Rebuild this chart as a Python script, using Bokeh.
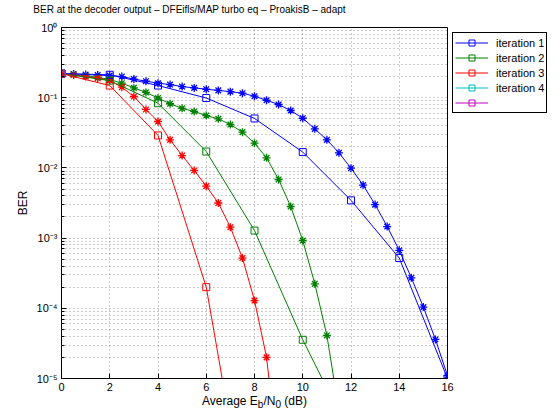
from bokeh.plotting import figure
from bokeh.layouts import column
from bokeh.models import (Range1d, FixedTicker, CustomJSTickFormatter, Legend, LegendItem, Div)
from bokeh.embed import file_html
from bokeh.resources import INLINE

FONT = "Liberation Sans"

# ---- data ----
x_sq = [0, 2, 4, 6, 8, 10, 12, 14, 16]
iter1_sq = [0.22, 0.212, 0.149, 0.099, 0.0506, 0.0168, 0.00345, 0.00052, 1.0e-5]
x_sq2 = [0, 2, 4, 6, 8, 10, 12]
iter2_sq = [0.22, 0.175, 0.0835, 0.0171, 0.00128, 3.56e-5, 1.5e-6]
x_sq3 = [0, 2, 4, 6, 8]
iter3_sq = [0.22, 0.149, 0.029, 2.0e-4, 2.3e-8]
x_sq45 = [0]
iter4_sq = [0.22]
iter5_sq = [0.22]

x_st1 = [0, 0.5, 1, 1.5, 2, 2.5, 3, 3.5, 4, 4.5, 5, 5.5, 6, 6.5, 7, 7.5, 8,
         8.5, 9, 9.5, 10, 10.5, 11, 11.5, 12, 12.5, 13, 13.5, 14, 14.5, 15, 15.5, 16]
iter1_st = [0.22, 0.218, 0.214, 0.21, 0.207, 0.2, 0.184, 0.172, 0.161, 0.154, 0.144,
            0.138, 0.132, 0.127, 0.122, 0.116, 0.105, 0.092, 0.080, 0.0657, 0.051,
            0.036, 0.0251, 0.0164, 0.0099, 0.0057, 0.003, 0.00146, 6.7e-4, 2.72e-4,
            1.04e-4, 3.6e-5, 1.1e-5]
x_st2 = [0, 0.5, 1, 1.5, 2, 2.5, 3, 3.5, 4, 4.5, 5, 5.5, 6, 6.5, 7, 7.5, 8,
         8.5, 9, 9.5, 10, 10.5, 11, 11.5]
iter2_st = [0.22, 0.214, 0.205, 0.195, 0.182, 0.161, 0.138, 0.119, 0.099, 0.082,
            0.0705, 0.0636, 0.0557, 0.05, 0.0415, 0.0323, 0.0225, 0.0139, 0.00684,
            0.00282, 9.24e-4, 2.23e-4, 4.1e-5, 3.5e-6]
x_st3 = [0, 0.5, 1, 1.5, 2, 2.5, 3, 3.5, 4, 4.5, 5, 5.5, 6, 6.5, 7, 7.5, 8, 8.5, 9]
iter3_st = [0.22, 0.21, 0.2, 0.19, 0.176, 0.141, 0.104, 0.068, 0.0458, 0.0251, 0.015,
            0.0092, 0.0055, 0.00316, 0.00143, 5.2e-4, 1.29e-4, 2.0e-5, 6e-7]

labels = ["iteration 1", "iteration 2", "iteration 3", "iteration 4", " "]
colors = ["#0000ff", "#008000", "#ff0000", "#00bfbf", "#bf00bf"]
x_ticks = [0, 2, 4, 6, 8, 10, 12, 14, 16]
y_ticks = [1e-5, 1e-4, 1e-3, 1e-2, 1e-1, 1]
y_minor = [m * 10.0 ** e for e in range(-5, 0) for m in range(2, 10)]
title = "BER at the decoder output \u2013 DFEifls/MAP turbo eq \u2013 ProakisB \u2013 adapt"
x_label_html = "Average E<sub>b</sub>/N<sub>0</sub> (dB)"

p = figure(frame_width=386, frame_height=351, y_axis_type="log",
           x_range=Range1d(0, 16), y_range=Range1d(1e-5, 1),
           output_backend="svg", toolbar_location=None,
           min_border_left=61, min_border_top=9, min_border_bottom=17,
           min_border_right=0)

p.outline_line_color = "black"
p.outline_line_width = 1
p.background_fill_color = "white"
p.border_fill_color = "white"

# axes
p.xaxis.ticker = FixedTicker(ticks=x_ticks)
p.yaxis.ticker = FixedTicker(ticks=y_ticks, minor_ticks=y_minor)
p.yaxis.formatter = CustomJSTickFormatter(code="""
const sup = {'0':'\u2070','1':'\u00b9','2':'\u00b2','3':'\u00b3','4':'\u2074','5':'\u2075',
             '6':'\u2076','7':'\u2077','8':'\u2078','9':'\u2079','-':'\u207b'};
const e = Math.round(Math.log10(tick));
return '10' + String(e).split('').map(c => sup[c]).join('');
""")
for ax in (p.xaxis[0], p.yaxis[0]):
    ax.axis_line_color = "black"
    ax.major_tick_line_color = "black"
    ax.major_tick_in = 5
    ax.major_tick_out = 0
    ax.minor_tick_in = 3
    ax.minor_tick_out = 0
    ax.major_label_text_font = FONT
    ax.major_label_text_font_size = "11px"
    ax.major_label_text_color = "black"
    ax.major_label_standoff = 4
    ax.axis_label_text_font = FONT
    ax.axis_label_text_font_size = "12px"
    ax.axis_label_text_font_style = "normal"
    ax.axis_label_text_color = "black"
p.xaxis.minor_tick_line_color = None
p.yaxis.minor_tick_line_color = "black"
p.yaxis.axis_label = "BER"
p.yaxis.axis_label_standoff = 4

# grid
for g in (p.xgrid[0], p.ygrid[0]):
    g.grid_line_color = "black"
    g.grid_line_alpha = 0.4
    g.grid_line_dash = "1 3"
p.ygrid.minor_grid_line_color = "black"
p.ygrid.minor_grid_line_alpha = 0.4
p.ygrid.minor_grid_line_dash = "1 3"

# star curves (not in legend)
for xs, ys, c in ((x_st1, iter1_st, colors[0]), (x_st2, iter2_st, colors[1]),
                  (x_st3, iter3_st, colors[2])):
    p.line(xs, ys, line_color=c, line_width=1)
    p.scatter(xs, ys, marker="asterisk", size=8, line_color=c, line_width=1.3)

# square curves (legend)
items = []
sq_sets = [(x_sq, iter1_sq), (x_sq2, iter2_sq), (x_sq3, iter3_sq),
           (x_sq45, iter4_sq), (x_sq45, iter5_sq)]
for (xs, ys), c, lab in zip(sq_sets, colors, labels):
    r1 = p.line(xs, ys, line_color=c, line_width=1)
    r2 = p.scatter(xs, ys, marker="square", size=7, line_color=c,
                   fill_color=None, line_width=1)
    items.append(LegendItem(label=lab, renderers=[r1, r2]))

legend = Legend(items=items, location="top_left")
legend.label_text_font = FONT
legend.label_text_font_size = "11px"
legend.label_text_color = "black"
legend.border_line_color = "black"
legend.border_line_width = 1
legend.border_line_alpha = 1
legend.margin = 5
legend.padding = 2
legend.spacing = 0
legend.glyph_width = 33
legend.glyph_height = 15
legend.label_height = 15
legend.label_standoff = 8
p.add_layout(legend, "right")

# title (HTML text above the plot)
title_div = Div(text='<div style="padding-top:2px;line-height:16px;white-space:nowrap">'
                     + "&nbsp;" * 12 + title + '</div>',
                width=560, height=18,
                styles={"font-family": FONT, "font-size": "10px", "color": "black",
                        "margin": "0px"})

# x axis label with subscripts (HTML text below the plot)
xlabel = Div(text=x_label_html, width=560, height=16,
             styles={"font-family": FONT, "font-size": "12px", "color": "black",
                     "padding-left": "202px", "line-height": "12px",
                     "margin": "0px"})

layout = column(title_div, p, xlabel, spacing=0)
open("out.html", "w").write(file_html(layout, INLINE))
